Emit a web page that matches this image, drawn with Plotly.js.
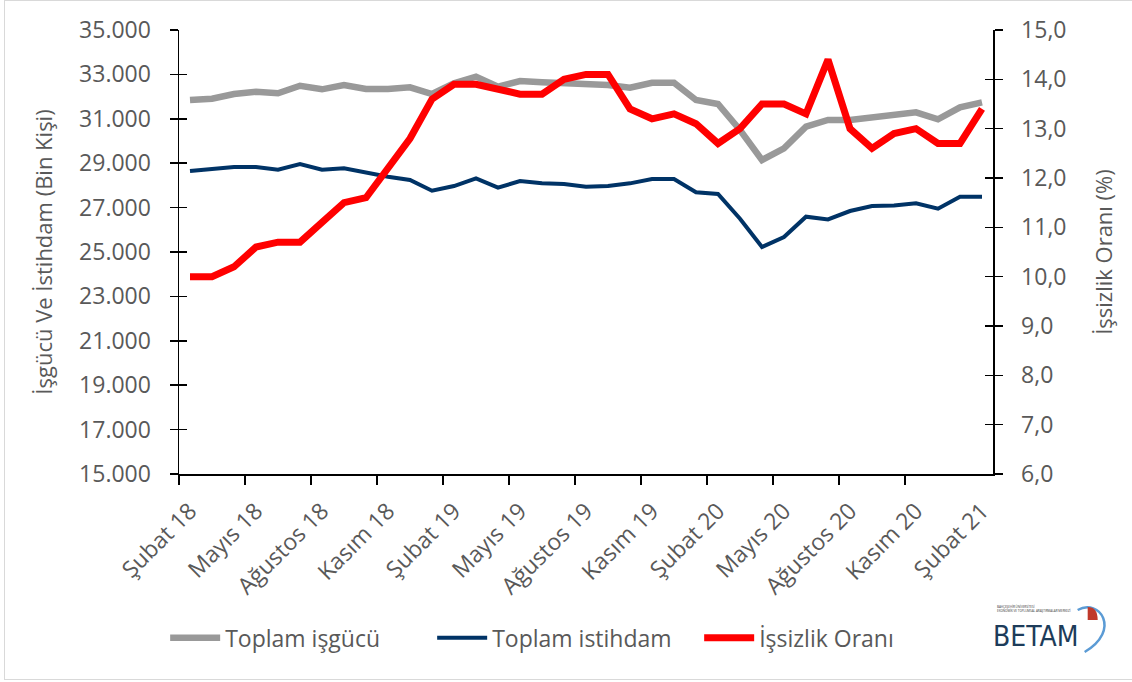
<!DOCTYPE html>
<html>
<head>
<meta charset="utf-8">
<script src="https://cdn.plot.ly/plotly-3.0.1.min.js"></script>
<style>
  html, body { margin: 0; padding: 0; background: #fff; }
  #wrap { position: relative; width: 1132px; height: 682px; }
  #chart { position: absolute; left: 0; top: 0; width: 1132px; height: 682px; }
  #frame { position: absolute; left: 4px; top: 0px; width: 1140px; height: 678px; border: 1px solid #d9d9d9; pointer-events: none; }
</style>
</head>
<body>
<div id="wrap">
  <div id="chart"></div>
  <div id="frame"></div>
</div>
<script>
// ---- data ----
const months = [
  "Şubat 18","Mart 18","Nisan 18","Mayıs 18","Haziran 18","Temmuz 18","Ağustos 18","Eylül 18","Ekim 18","Kasım 18","Aralık 18","Ocak 19",
  "Şubat 19","Mart 19","Nisan 19","Mayıs 19","Haziran 19","Temmuz 19","Ağustos 19","Eylül 19","Ekim 19","Kasım 19","Aralık 19","Ocak 20",
  "Şubat 20","Mart 20","Nisan 20","Mayıs 20","Haziran 20","Temmuz 20","Ağustos 20","Eylül 20","Ekim 20","Kasım 20","Aralık 20","Ocak 21",
  "Şubat 21"
];
const isgucu = [31846, 31905, 32117, 32220, 32148, 32490, 32328, 32522, 32342, 32342, 32418, 32117,
                32600, 32900, 32450, 32702, 32643, 32600, 32490, 32520, 32400, 32625, 32625, 31846,
                31666, 30495, 29143, 29670, 30645, 30946, 30946, 31050, 31126, 31290, 30977, 31517,
                31742];
const istihdam = [28648, 28724, 28828, 28828, 28707, 28963, 28707, 28770, 28572, 28392, 28243, 27760,
                  27972, 28320, 27896, 28198, 28093, 28062, 27941, 27972, 28093, 28287, 28287, 27688,
                  27612, 26500, 25224, 25675, 26590, 26470, 26846, 27070, 27100, 27190, 26950, 27490,
                  27490];
const issizlik = [10.0, 10.0, 10.2, 10.6, 10.7, 10.7, 11.1, 11.5, 11.6, 12.2, 12.8, 13.6,
                  13.9, 13.9, 13.8, 13.7, 13.7, 14.0, 14.1, 14.1, 13.4, 13.2, 13.3, 13.1,
                  12.7, 13.0, 13.5, 13.5, 13.3, 14.4, 13.0, 12.6, 12.9, 13.0, 12.7, 12.7,
                  13.4];
const seriesNames = ["Toplam işgücü", "Toplam istihdam", "İşsizlik Oranı"];
const leftTitle = "İşgücü Ve İstihdam (Bin Kişi)";
const rightTitle = "İşsizlik Oranı (%)";
const labelStep = 3;

// ---- derived ----
const xs = months.map((_, i) => i);
const tickIdx = xs.filter(i => i % labelStep === 0);
const tickText = tickIdx.map(i => months[i]);
const boundaryTicks = tickIdx.filter(i => i < months.length - 1).map(i => i - 0.5);

const FONT = '"Open Sans", "Noto Sans", sans-serif';
const TXT = '#595959';

const traces = [
  { x: xs, y: isgucu, name: seriesNames[0], type: 'scatter', mode: 'lines', text: months,
    line: { color: '#999999', width: 6.5 }, yaxis: 'y' },
  { x: xs, y: istihdam, name: seriesNames[1], type: 'scatter', mode: 'lines', text: months,
    line: { color: '#003366', width: 4 }, yaxis: 'y' },
  { x: xs, y: issizlik, name: seriesNames[2], type: 'scatter', mode: 'lines', text: months,
    line: { color: '#ff0000', width: 7 }, yaxis: 'y2' },
  // empty helper traces so the tick-only overlay axes (crossing tick marks) are drawn
  { x: [], y: [], yaxis: 'y3', showlegend: false, hoverinfo: 'skip', type: 'scatter' },
  { x: [], y: [], yaxis: 'y4', showlegend: false, hoverinfo: 'skip', type: 'scatter' }
];

const tickOnly = {
  ticks: 'inside', ticklen: 8, tickwidth: 1.5, tickcolor: '#000',
  showticklabels: false, showline: false, showgrid: false, zeroline: false
};

const layout = {
  width: 1132, height: 682,
  margin: { l: 179, r: 139, t: 30, b: 208, pad: 0 },
  separators: ',.',
  paper_bgcolor: '#ffffff', plot_bgcolor: '#ffffff',
  font: { family: FONT, color: TXT },
  showlegend: true,
  legend: {
    orientation: 'h', x: -0.017, xanchor: 'left', y: -0.369, yanchor: 'middle',
    font: { family: FONT, size: 23, color: TXT }, bgcolor: 'rgba(0,0,0,0)',
    itemwidth: 50, entrywidth: 202, entrywidthmode: 'pixels'
  },
  xaxis: {
    range: [-0.5, months.length - 0.5], tickmode: 'array', tickvals: tickIdx, ticktext: tickText,
    tickangle: -45, ticks: '', showline: true, linecolor: '#000', linewidth: 1.5,
    showgrid: false, zeroline: false, tickfont: { family: FONT, size: 23, color: TXT },
    ticklabelstandoff: 13,
    minor: { tickmode: 'array', tickvals: boundaryTicks, ticks: 'outside', ticklen: 9,
             tickwidth: 1.5, tickcolor: '#000', showgrid: false }
  },
  yaxis: {
    range: [15000, 35000], tick0: 15000, dtick: 2000, tickformat: ',d',
    ticks: 'outside', ticklen: 8, tickwidth: 1.5, tickcolor: '#000',
    showline: true, linecolor: '#000', linewidth: 1.5, showgrid: false, zeroline: false,
    tickfont: { family: FONT, size: 23, color: TXT }, ticklabelstandoff: 14,
    title: { text: leftTitle, font: { family: FONT, size: 22, color: TXT }, standoff: 20 }
  },
  yaxis2: {
    overlaying: 'y', side: 'right', range: [6, 15], tick0: 6, dtick: 1, tickformat: '.1f',
    ticks: 'outside', ticklen: 8, tickwidth: 1.5, tickcolor: '#000',
    showline: true, linecolor: '#000', linewidth: 1.5, showgrid: false, zeroline: false,
    tickfont: { family: FONT, size: 23, color: TXT }, ticklabelstandoff: 14,
    title: { text: rightTitle, font: { family: FONT, size: 22, color: TXT }, standoff: 31 }
  },
  yaxis3: Object.assign({ overlaying: 'y', side: 'left', range: [15000, 35000], tick0: 15000, dtick: 2000 }, tickOnly),
  yaxis4: Object.assign({ overlaying: 'y', side: 'right', range: [6, 15], tick0: 6, dtick: 1 }, tickOnly),
  annotations: [
    { xref: 'paper', yref: 'paper', x: 1.0525, y: -0.366, text: 'BETAM', showarrow: false,
      font: { family: '"Liberation Sans Narrow", "DejaVu Sans Condensed", sans-serif', size: 28, color: '#1d3c5a' },
      xanchor: 'center', yanchor: 'middle', borderpad: 0 },
    { xref: 'paper', yref: 'paper', x: 1.004, y: -0.302, text: 'BAHÇEŞEHİR ÜNİVERSİTESİ<br>EKONOMİK VE TOPLUMSAL ARAŞTIRMALAR MERKEZİ',
      showarrow: false, align: 'left', xanchor: 'left', yanchor: 'middle', borderpad: 0,
      font: { family: FONT, size: 3, color: '#333' } }
  ],
  shapes: [
    { type: 'path', xref: 'paper', yref: 'paper', layer: 'above',
      path: 'M 1.1040 -0.3063 C 1.1310 -0.2793 1.1580 -0.3514 1.1126 -0.4009',
      line: { color: '#5b9bd5', width: 2.5 } },
    { type: 'path', xref: 'paper', yref: 'paper', layer: 'above',
      path: 'M 1.1163 -0.3288 L 1.1163 -0.2995 Q 1.1286 -0.2995 1.1286 -0.3288 Z',
      fillcolor: '#c0392b', line: { width: 0 } }
  ]
};

Plotly.newPlot('chart', traces, layout, { displayModeBar: false, staticPlot: true });
</script>
</body>
</html>
